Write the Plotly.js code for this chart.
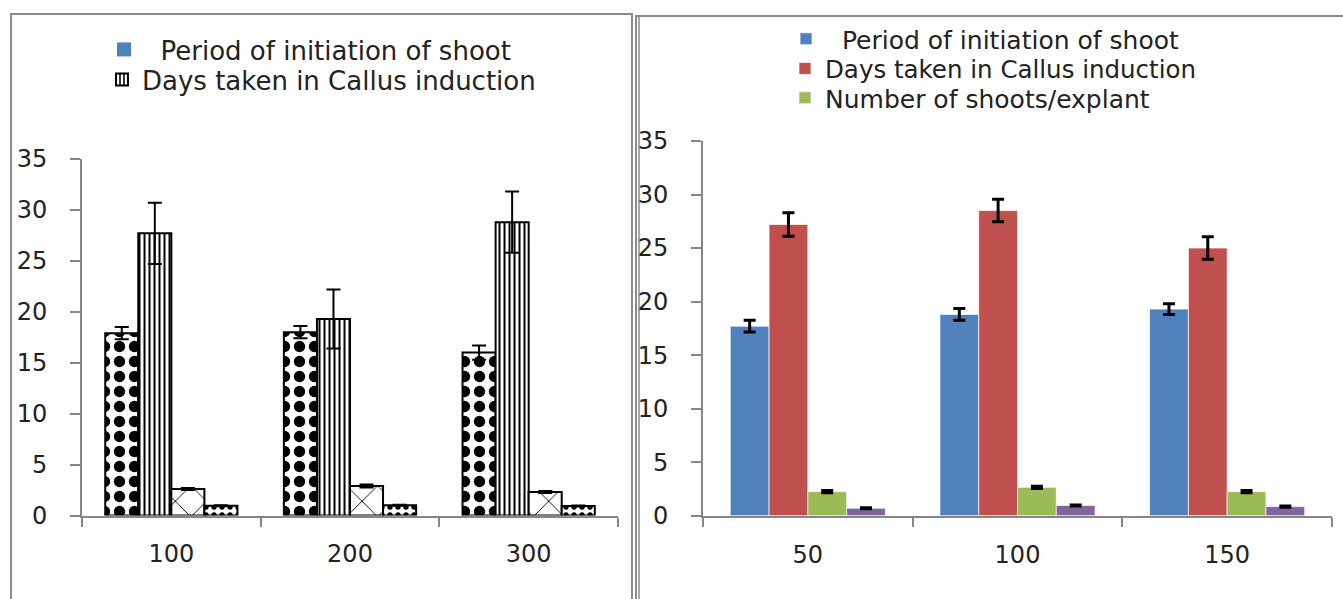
<!DOCTYPE html>
<html>
<head>
<meta charset="utf-8">
<script src="https://cdn.plot.ly/plotly-3.0.1.min.js"></script>
<style>html,body{margin:0;padding:0;background:#fff;}#chart{width:1343px;height:599px;}</style>
</head>
<body>
<div id="chart"></div>
<script>
// ---- Left panel data ----
const leftCats = ["100", "200", "300"];
const leftPeriod = [17.9, 18.0, 16.0];
const leftPeriodErr = [0.6, 0.6, 0.7];
const leftCallus = [27.7, 19.3, 28.8];
const leftCallusErr = [3.0, 2.9, 3.0];
const leftShoots = [2.6, 2.9, 2.3];
const leftShootsErr = [0.1, 0.15, 0.1];
const leftFourth = [0.95, 1.0, 0.93];
const leftFourthErr = [0.05, 0.05, 0.05];

// ---- Right panel data ----
const rightCats = ["50", "100", "150"];
const rightPeriod = [17.7, 18.8, 19.3];
const rightPeriodErr = [0.55, 0.55, 0.5];
const rightCallus = [27.2, 28.5, 25.0];
const rightCallusErr = [1.1, 1.05, 1.05];
const rightShoots = [2.25, 2.65, 2.25];
const rightShootsErr = [0.1, 0.1, 0.1];
const rightFourth = [0.7, 0.95, 0.85];
const rightFourthErr = [0.05, 0.05, 0.05];

const seriesNames = ["Period of initiation of shoot", "Days taken in Callus induction", "Number of shoots/explant", "Series 4"];
const rightColors = ["#4F81BD", "#C0504D", "#9BBB59", "#8064A2"];

const FONT = "DejaVu Sans, sans-serif";
const W = 1343, H = 599;
const px = v => v / W;
const py = v => 1 - v / H;

function errL(arr) { return {type: "data", array: arr, visible: true, color: "#000", thickness: 2, width: 7}; }
function errR(arr) { return {type: "data", array: arr, visible: true, color: "#000", thickness: 3, width: 6}; }

const leftPatterns = [
  {shape: ".", fgcolor: "#000", bgcolor: "#fff", fgopacity: 1, size: 15, solidity: 0.45, fillmode: "overlay"},
  {shape: "|", fgcolor: "#000", bgcolor: "#fff", fgopacity: 1, size: 5, solidity: 0.4, fillmode: "overlay"},
  {shape: "x", fgcolor: "#000", bgcolor: "#fff", fgopacity: 1, size: 22, solidity: 0.08, fillmode: "overlay"},
  {shape: ".", fgcolor: "#000", bgcolor: "#fff", fgopacity: 1, size: 8, solidity: 0.35, fillmode: "overlay"}
];
const leftVals = [leftPeriod, leftCallus, leftShoots, leftFourth];
const leftErrs = [leftPeriodErr, leftCallusErr, leftShootsErr, leftFourthErr];
const rightVals = [rightPeriod, rightCallus, rightShoots, rightFourth];
const rightErrs = [rightPeriodErr, rightCallusErr, rightShootsErr, rightFourthErr];
const rightLegends = ["legend3", "legend4", "legend5", "legend5"];

const traces = [];
// legend-only entry for the left panel (drawn as a blue square in the original legend)
traces.push({
  type: "scatter", mode: "markers", x: [null], y: [null], xaxis: "x", yaxis: "y",
  name: "\u00a0\u00a0" + seriesNames[0], legend: "legend", showlegend: true,
  marker: {color: "#4F81BD", symbol: "square", size: 14}, hoverinfo: "skip"
});
for (let i = 0; i < 4; i++) {
  traces.push({
    type: "bar", x: leftCats, y: leftVals[i], xaxis: "x", yaxis: "y",
    name: seriesNames[i], legend: "legend2", showlegend: i === 1,
    marker: {color: "#fff", pattern: leftPatterns[i], line: {color: "#000", width: 2}},
    error_y: errL(leftErrs[i])
  });
}
for (let i = 0; i < 4; i++) {
  traces.push({
    type: "bar", x: rightCats, y: rightVals[i], xaxis: "x2", yaxis: "y2",
    name: (i === 0 ? "\u00a0\u00a0" : "") + seriesNames[i], legend: rightLegends[i], showlegend: i < 3,
    marker: {color: rightColors[i], line: {color: "rgba(255,255,255,0.7)", width: 1}},
    error_y: errR(rightErrs[i])
  });
}

const axisCommon = {
  showgrid: false, zeroline: false, showline: true, linecolor: "#868686", linewidth: 2,
  ticks: "outside", tickcolor: "#868686", tickwidth: 2,
  tickfont: {family: FONT, size: 24, color: "#222"}, fixedrange: true
};

function legendAt(xPix, topPix, size) {
  return {
    x: px(xPix), y: py(topPix), xanchor: "left", yanchor: "top",
    orientation: "v", bgcolor: "rgba(0,0,0,0)", borderwidth: 0,
    font: {family: FONT, size: size, color: "#222"}
  };
}

const layout = {
  width: W, height: H,
  margin: {l: 0, r: 0, t: 0, b: 0},
  paper_bgcolor: "#fff", plot_bgcolor: "#fff",
  barmode: "group", bargap: 0.26, bargroupgap: 0,
  font: {family: FONT, color: "#222"},
  xaxis: Object.assign({}, axisCommon, {
    type: "category", domain: [px(82), px(618)], anchor: "y",
    tickson: "boundaries", ticklen: 9, ticklabelstandoff: 16
  }),
  yaxis: Object.assign({}, axisCommon, {
    domain: [(H - 515.5) / H, (H - 159) / H], anchor: "x",
    range: [0, 35], dtick: 5, tick0: 0, ticklen: 10, ticklabelstandoff: 18
  }),
  xaxis2: Object.assign({}, axisCommon, {
    type: "category", domain: [px(703), px(1332)], anchor: "y2",
    tickson: "boundaries", ticklen: 9, ticklabelstandoff: 16
  }),
  yaxis2: Object.assign({}, axisCommon, {
    domain: [(H - 515.7) / H, (H - 141) / H], anchor: "x2",
    range: [0, 35], dtick: 5, tick0: 0, ticklen: 10, ticklabelstandoff: 18
  }),
  legend: legendAt(104, 26, 26),
  legend2: legendAt(102, 56, 26),
  legend3: legendAt(786, 16, 25),
  legend4: legendAt(785, 46, 24.5),
  legend5: legendAt(785, 75, 25),
  shapes: [
    {type: "rect", xref: "paper", yref: "paper", x0: px(11), x1: px(632), y0: -0.05, y1: py(14),
     line: {color: "#8a8a8a", width: 2}, fillcolor: "rgba(0,0,0,0)", layer: "below"},
    {type: "rect", xref: "paper", yref: "paper", x0: px(636), x1: 1.05, y0: -0.05, y1: py(16),
     line: {color: "#8a8a8a", width: 2}, fillcolor: "rgba(0,0,0,0)", layer: "below"},
    {type: "line", xref: "paper", yref: "paper", x0: px(639), x1: px(639), y0: -0.05, y1: py(16),
     line: {color: "#8a8a8a", width: 1.5}, layer: "below"}
  ]
};

Plotly.newPlot("chart", traces, layout, {staticPlot: true, displayModeBar: false});
</script>
</body>
</html>
